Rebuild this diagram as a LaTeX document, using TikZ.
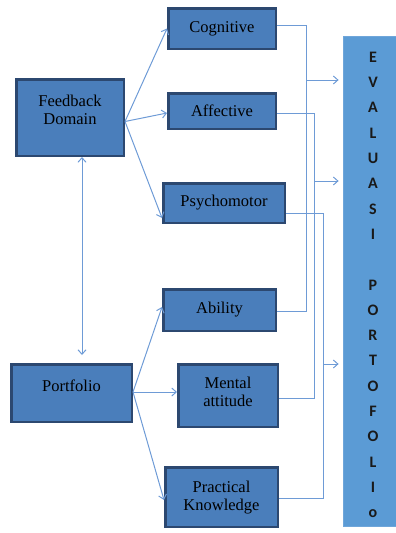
\documentclass[tikz,border=0pt]{standalone}
\usepackage{fontspec}
\setmainfont{Liberation Serif}
\newfontfamily\evafont{Carlito}
\usetikzlibrary{arrows.meta,calc}
\definecolor{boxfill}{HTML}{4A7EBB}
\definecolor{boxline}{HTML}{2C4870}
\definecolor{conncol}{HTML}{6E9BD6}
\definecolor{evafill}{HTML}{5B9BD5}
\definecolor{evaline}{HTML}{6FA6DA}
\newcommand{\rtxt}[2]{\raisebox{#1}[\height][\depth]{\begin{tabular}{@{}c@{}}#2\end{tabular}}}
\begin{document}
\begin{tikzpicture}[x=1pt,y=-1pt,
  bx/.style={draw=boxline,fill=boxfill,line width=2.5pt,inner sep=0pt,
    font=\fontsize{16.5}{18}\selectfont,text=black},
  conn/.style={draw=conncol,line width=1pt},
  arr/.style={conn,-{Straight Barb[length=4.5pt,width=8pt]}},
  darr/.style={conn,{Straight Barb[length=4.5pt,width=8pt]}-{Straight Barb[length=4.5pt,width=8pt]}}]
\useasboundingbox (0,0) rectangle (396,533);
\path[clip] (0,0) rectangle (396,533);
% boxes
\node[bx,minimum width=107.5pt,minimum height=76.5pt] (fd) at (70,117.5) {\rtxt{5.5pt}{Feedback\\Domain}};
\node[bx,minimum width=107.5pt,minimum height=40.5pt] (cog) at (222,28.5) {Cognitive};
\node[bx,minimum width=107.5pt,minimum height=35.5pt] (aff) at (222,111) {Affective};
\node[bx,minimum width=121.5pt,minimum height=39.5pt] (psy) at (224,203) {Psychomotor};
\node[bx,minimum width=112.5pt,minimum height=41.5pt] (abi) at (219.5,310) {Ability};
\node[bx,minimum width=99.5pt,minimum height=62.5pt] (men) at (228,395.5) {\rtxt{2pt}{Mental\\attitude}};
\node[bx,minimum width=112.5pt,minimum height=59.5pt] (pra) at (221.5,497) {\rtxt{-1pt}{Practical\\Knowledge}};
\node[bx,minimum width=120.5pt,minimum height=57.5pt] (por) at (71.5,393) {\rtxt{5pt}{Portfolio}};
\node[draw=evaline,fill=evafill,line width=0.8pt,inner sep=0pt,minimum width=60pt,minimum height=490pt,
  font=\evafont\bfseries\fontsize{16}{25.3}\selectfont,text=black!90] (eva) at (373,281)
  {\rtxt{-4pt}{E\\V\\A\\L\\U\\A\\S\\I\\ \\P\\O\\R\\T\\O\\F\\O\\L\\I\\o}};
% left connectors
\draw[arr] ([yshift=-4pt]fd.east) -- (cog.west);
\draw[arr] ([yshift=-4pt]fd.east) -- ([yshift=-2pt]aff.west);
\draw[arr] ([yshift=-4pt]fd.east) -- ([yshift=-15pt]psy.west);
\draw[darr] ([xshift=12pt]fd.south) -- ([xshift=10.5pt,yshift=8pt]por.north);
\draw[arr] ([yshift=1pt]por.east) -- ([yshift=3pt]abi.west);
\draw[arr] ([yshift=1pt]por.east) -- ([yshift=3.5pt]men.west);
\draw[arr] ([yshift=1pt]por.east) -- ([yshift=-3pt]pra.west);
% right connectors
\draw[conn] ([yshift=3.5pt]cog.east) -| ([xshift=29pt,yshift=-1pt]abi.east) -- ([yshift=-1pt]abi.east);
\draw[conn] ([yshift=-2pt]aff.east) -| ([xshift=35pt,yshift=-2.5pt]men.east) -- ([yshift=-2.5pt]men.east);
\draw[conn] ([yshift=-10pt]psy.east) -| ([xshift=44pt,yshift=-1pt]pra.east) -- ([yshift=-1pt]pra.east);
\coordinate (j1) at (307,80);
\coordinate (j2) at (314,181);
\coordinate (j3) at (323,364);
\draw[arr,shorten >=4pt] (j1) -- (j1 -| eva.west);
\draw[arr,shorten >=4pt] (j2) -- (j2 -| eva.west);
\draw[arr,shorten >=4pt] (j3) -- (j3 -| eva.west);
\end{tikzpicture}
\end{document}
